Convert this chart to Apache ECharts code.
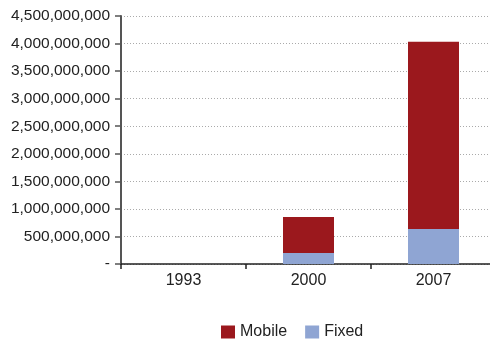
<!DOCTYPE html>
<html>
<head>
<meta charset="utf-8">
<script src="https://cdn.jsdelivr.net/npm/echarts@6/dist/echarts.min.js"></script>
<style>
  html, body { margin: 0; padding: 0; background: #fff; overflow: hidden; }
  #main { width: 496px; height: 339px; }
</style>
</head>
<body>
<div id="main"></div>
<script>
// data
var years = ['1993', '2000', '2007']
var mobile = [0, 653000000, 3400000000]
var fixed = [0, 200000000, 635000000]

var font = 'Liberation Sans, Arial, Helvetica, sans-serif'

// plot area runs a few px past the right edge of the window, as in the original
var myChart = echarts.init(document.getElementById('main'))
myChart.setOption({
    animation: false,
    textStyle: { fontFamily: font },
    grid: { left: 121, right: 0, top: 16, bottom: 75, containLabel: false },
    legend: {
        data: ['Mobile', 'Fixed'],
        left: 216,
        top: 319,
        icon: 'rect',
        itemWidth: 14,
        itemHeight: 13,
        itemGap: 18,
        textStyle: { fontSize: 16, color: '#222', fontFamily: font }
    },
    xAxis: {
        type: 'category',
        data: years,
        axisLine: { lineStyle: { color: '#222', width: 1.5 } },
        axisTick: { show: true, length: 5, inside: false, lineStyle: { color: '#222', width: 1.5 } },
        axisLabel: { fontSize: 16, color: '#222', margin: 9 },
        splitLine: { show: false }
    },
    yAxis: {
        type: 'value',
        min: 0,
        max: 4500000000,
        interval: 500000000,
        axisLine: { show: true, lineStyle: { color: '#555', width: 2 } },
        axisTick: { show: true, length: 6, lineStyle: { color: '#555', width: 1.5 } },
        axisLabel: {
            fontSize: 15.5,
            color: '#222',
            margin: 11,
            formatter: function (v) {
                return v === 0 ? '-' : v.toLocaleString('en-US')
            }
        },
        splitLine: { show: true, lineStyle: { color: '#aaa', type: [1, 2], width: 1 } }
    },
    series: [
        {
            name: 'Fixed',
            type: 'bar',
            stack: 'total',
            barWidth: 51,
            data: fixed,
            itemStyle: { color: '#8fa5d3' }
        },
        {
            name: 'Mobile',
            type: 'bar',
            stack: 'total',
            barWidth: 51,
            data: mobile,
            itemStyle: { color: '#9b181d' }
        }
    ]
})
</script>
</body>
</html>
